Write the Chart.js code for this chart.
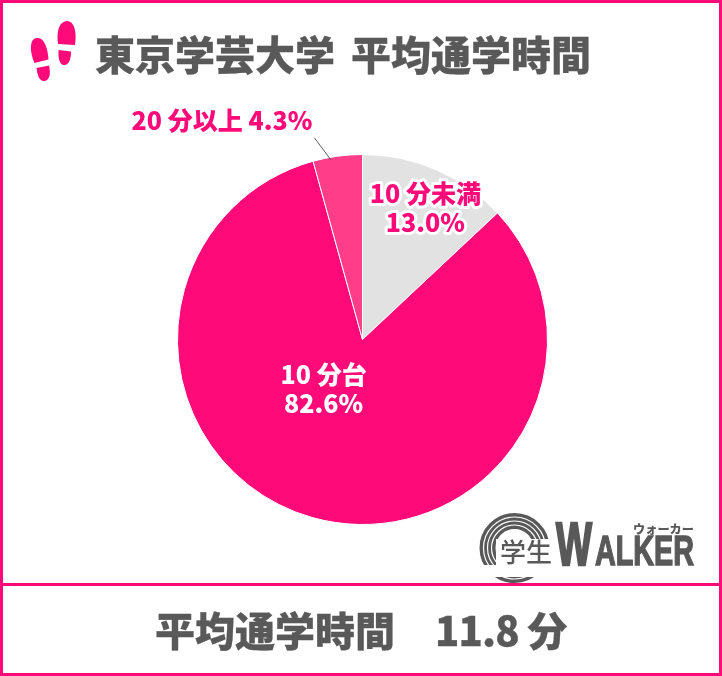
<!DOCTYPE html>
<html lang="ja">
<head>
<meta charset="utf-8">
<title>東京学芸大学 平均通学時間</title>
<script src="https://cdn.jsdelivr.net/npm/chart.js@4"></script>
<style>
html,body{margin:0;padding:0;background:#fff;}
#wrap{position:relative;width:722px;height:676px;overflow:hidden;font-family:"Noto Sans CJK JP","Noto Sans",sans-serif;font-weight:900;color:#595959;}
#myChart{position:absolute;left:0;top:0;}
.frame{position:absolute;background:#ff0a78;}
.txt{position:absolute;white-space:pre;line-height:1;-webkit-text-stroke:.3px #595959;}
svg{position:absolute;left:0;top:0;}
</style>
</head>
<body>
<div id="wrap">
<canvas id="myChart" width="722" height="676"></canvas>
<div class="frame" style="left:0;top:0;width:722px;height:3px"></div>
<div class="frame" style="left:0;top:0;width:3px;height:676px"></div>
<div class="frame" style="left:719px;top:0;width:3px;height:676px"></div>
<div class="frame" style="left:0;top:583px;width:722px;height:3px"></div>
<div class="frame" style="left:0;top:673px;width:722px;height:3px"></div>
<div class="txt" style="left:95px;top:33px;font-size:40px">東京学芸大学</div>
<div class="txt" style="left:351px;top:33px;font-size:40px">平均通学時間</div>
<div class="txt" style="left:155px;top:609px;font-size:40px">平均通学時間</div>
<div class="txt" style="left:435px;top:609px;font-size:40px;letter-spacing:-.8px">11.8 分</div>
<svg width="722" height="676" viewBox="0 0 722 676">
  <g fill="#ff0a78">
    <path d="M58 44 C56 30 60 21 67 21 C74 21 77 31 75 45 Z"/>
    <path d="M58.5 50 L71 51.5 C71 59 69 65 64 65 C59.5 65 58 58 58.5 50Z"/>
    <path d="M34.5 63 C29 50 30 38 37 38 C44 37 48 48 48.5 59.5 Z"/>
    <path d="M36.5 68 L49 65.5 C51 74 49.5 81 44 81 C39 81 37.5 75 36.5 68Z"/>
  </g>
  <circle cx="514.5" cy="548" r="27" fill="none" stroke="#595959" stroke-width="16"/>
  <g fill="none" stroke="#fff" stroke-width="1.2">
    <circle cx="514.5" cy="548" r="23"/>
    <circle cx="514.5" cy="548" r="27"/>
    <circle cx="514.5" cy="548" r="31"/>
  </g>
  <rect x="496" y="539" width="60" height="28" fill="#fff"/>
  <rect x="470" y="565" width="90" height="12" fill="#fff"/>
  <text x="500" y="562" font-size="26" font-weight="500" fill="#595959">学生</text>
  <text x="556" y="565" textLength="36" lengthAdjust="spacingAndGlyphs" font-family="Liberation Sans" font-size="62" font-weight="700" fill="#595959" stroke="#595959" stroke-width="2.5">W</text>
  <text x="595" y="565" textLength="99" lengthAdjust="spacingAndGlyphs" font-family="Liberation Sans" font-size="42" font-weight="700" fill="#595959" stroke="#595959" stroke-width="1.5">ALKER</text>
  <text x="633" y="534" textLength="61" lengthAdjust="spacingAndGlyphs" font-size="12" font-weight="900" fill="#595959">ウォーカー</text>
</svg>
</div>
<script>
var categories = ['10 分未満', '10 分台', '20 分以上'];
var shares = [13.0, 82.6, 4.3];
var sliceColors = ['#e2e2e2', '#ff0a78', '#ff3d88'];

// label position is an offset from the pie center, as a fraction of the radius
var labelOffsets = [[0.34, -0.71], [-0.21, 0.265], [-0.76, -1.185]];
var labelColors = ['#ff0a78', '#ffffff', '#ff0a78'];

var sliceLabels = {
    id: 'sliceLabels',
    afterDatasetsDraw: function(chart){
        var ctx = chart.ctx;
        var arcs = chart.getDatasetMeta(0).data;
        ctx.save();
        ctx.textAlign = 'center';
        ctx.textBaseline = 'middle';
        ctx.font = '900 25px "Noto Sans CJK JP"';
        ctx.lineJoin = 'round';

        // leader line of the small slice
        var small = arcs[2];
        ctx.strokeStyle = '#595959';
        ctx.lineWidth = 1;
        ctx.beginPath();
        ctx.moveTo(small.x - 0.26 * small.outerRadius, small.y - 1.09 * small.outerRadius);
        ctx.lineTo(small.x - 0.17 * small.outerRadius, small.y - 0.97 * small.outerRadius);
        ctx.stroke();

        arcs.forEach(function(arc, i){
            var x = arc.x + labelOffsets[i][0] * arc.outerRadius;
            var y = arc.y + labelOffsets[i][1] * arc.outerRadius;
            var lines = i == 2
                ? [categories[i] + ' ' + shares[i].toFixed(1) + '%']
                : [categories[i], shares[i].toFixed(1) + '%'];
            lines.forEach(function(line, n){
                var ly = y + (n - (lines.length - 1) / 2) * 29;
                if(i == 0){
                    ctx.strokeStyle = '#ffffff';
                    ctx.lineWidth = 6;
                    ctx.strokeText(line, x, ly);
                }
                ctx.fillStyle = labelColors[i];
                ctx.fillText(line, x, ly);
            });
        });
        ctx.restore();
    }
};

var ctx = document.getElementById('myChart').getContext('2d');
var myPieChart = new Chart(ctx, {
    type: 'pie',
    data: {
        labels: categories,
        datasets: [{
            data: shares,
            backgroundColor: sliceColors,
            borderColor: '#ffffff',
            borderWidth: 1
        }]
    },
    options: {
        responsive: false,
        animation: false,
        layout: { padding: { left: 177, right: 174, top: 154, bottom: 151 } },
        plugins: {
            legend: { display: false },
            tooltip: { enabled: false }
        }
    },
    plugins: [sliceLabels]
});
</script>
</body>
</html>
